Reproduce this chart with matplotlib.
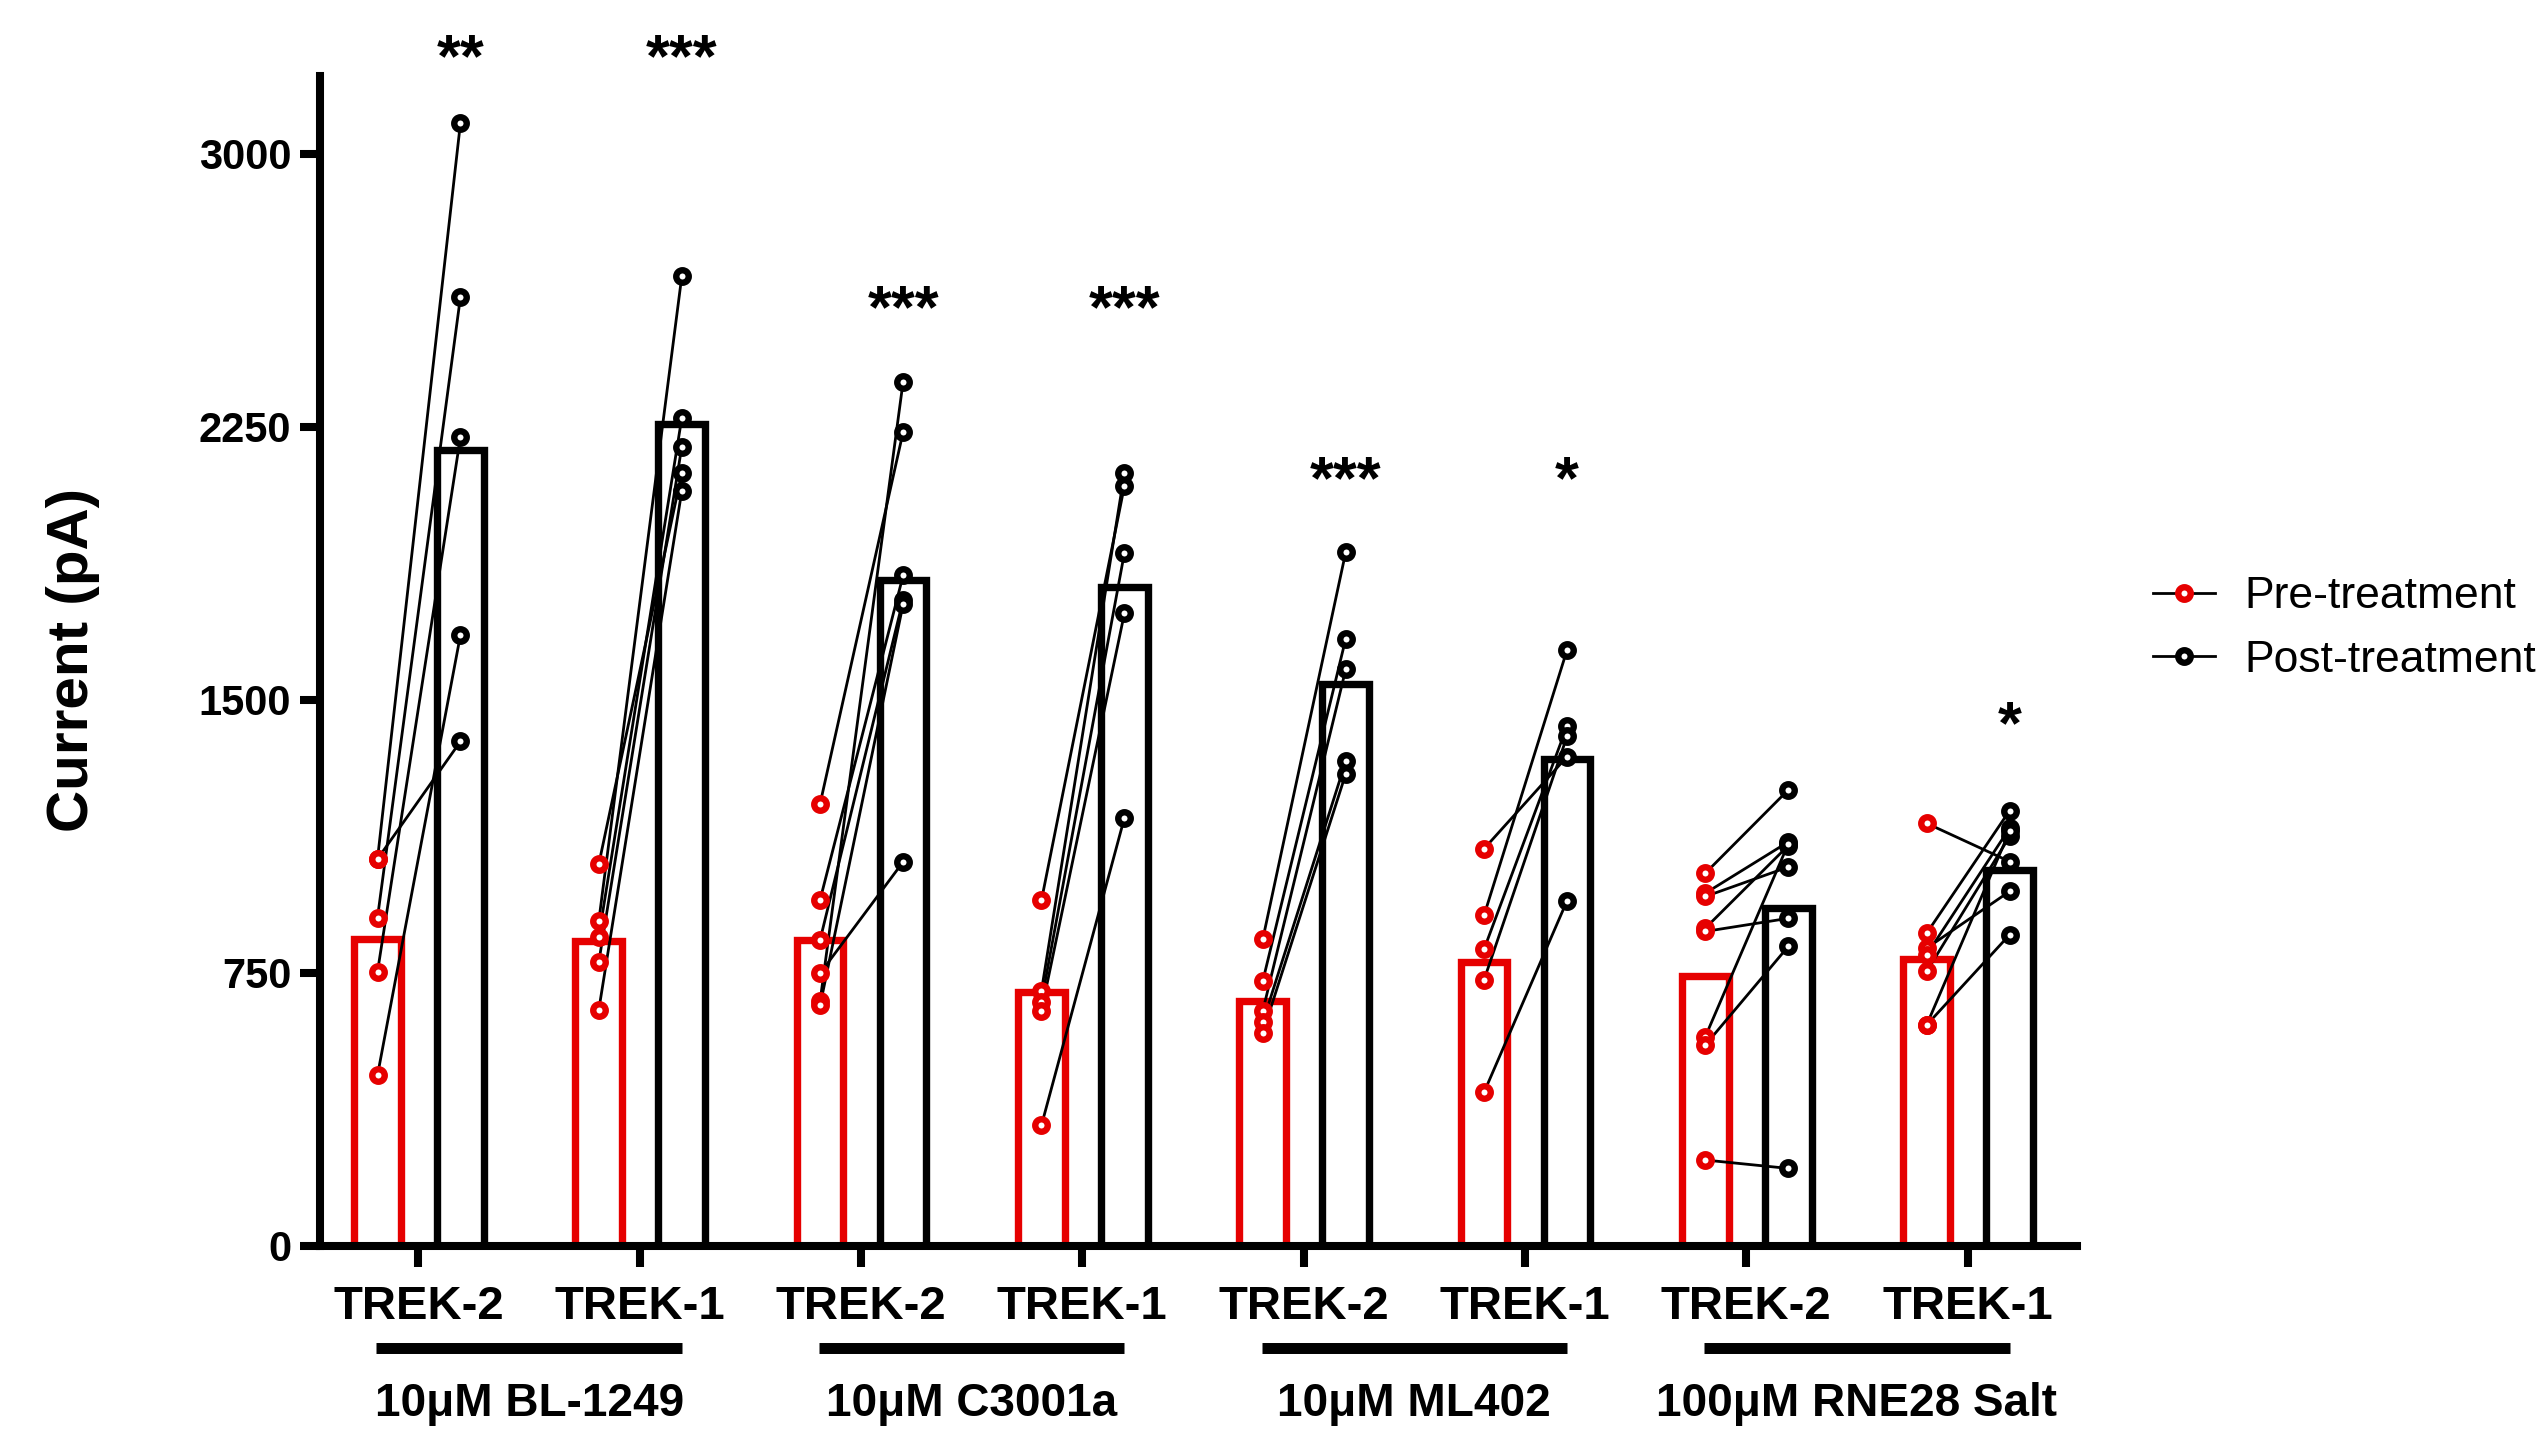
import matplotlib
matplotlib.use("Agg")
import matplotlib.pyplot as plt
import numpy as np
from matplotlib.lines import Line2D
from matplotlib.transforms import blended_transform_factory

plt.rcParams['font.family'] = ['Liberation Sans', 'DejaVu Sans']

# ---------------- data ----------------
groups = ["10\u03bcM BL-1249", "10\u03bcM C3001a", "10\u03bcM ML402", "100\u03bcM RNE28 Salt"]
channels = ["TREK-2", "TREK-1", "TREK-2", "TREK-1", "TREK-2", "TREK-1", "TREK-2", "TREK-1"]

pre_g1 = [1063, 1063, 902, 753, 469]
post_g1 = [3086, 1386, 2608, 2223, 1679]
pre_g2 = [1049, 893, 850, 780, 649]
post_g2 = [2124, 2664, 2275, 2196, 2074]
pre_g3 = [1215, 951, 841, 749, 673, 661]
post_g3 = [2236, 1842, 1775, 1055, 2374, 1763]
pre_g4 = [949, 700, 671, 646, 331]
post_g4 = [2088, 2123, 1904, 1738, 1176]
pre_g5 = [842, 727, 645, 614, 585]
post_g5 = [1906, 1668, 1584, 1331, 1297]
pre_g6 = [1091, 908, 815, 731, 422]
post_g6 = [1344, 1637, 1428, 1400, 948]
pre_g7 = [1024, 969, 960, 873, 864, 575, 552, 236]
post_g7 = [1253, 1110, 1041, 1100, 900, 1105, 823, 213]
pre_g8 = [1161, 859, 818, 800, 754, 607, 607]
post_g8 = [1056, 1196, 974, 1148, 1125, 1140, 855]

pre_all = [pre_g1, pre_g2, pre_g3, pre_g4, pre_g5, pre_g6, pre_g7, pre_g8]
post_all = [post_g1, post_g2, post_g3, post_g4, post_g5, post_g6, post_g7, post_g8]

pre_means = [842, 838, 840, 697, 673, 780, 742, 788]
post_means = [2187, 2258, 1830, 1811, 1544, 1338, 929, 1034]

stars = ["**", "***", "***", "***", "***", "*", "", "*"]
star_y = [3308, 3308, 2620, 2620, 2150, 2150, 0, 1475]

yticks = [0, 750, 1500, 2250, 3000]

RED = "#E60000"

# ---------------- figure ----------------
fig = plt.figure(figsize=(25.44, 14.3), dpi=100)
ax = fig.add_axes([0.1256, 0.1287, 0.8164 - 0.1256, 0.9469 - 0.1287])

x = np.arange(len(channels))
off_r, off_b = -0.185, 0.19
bw = 0.211

ax.bar(x + off_r, pre_means, width=bw, facecolor='none', edgecolor=RED, linewidth=5.3, zorder=1)
ax.bar(x + off_b, post_means, width=bw, facecolor='none', edgecolor='black', linewidth=5.3, zorder=1)

for i in range(len(channels)):
    pre = pre_all[i]
    post = post_all[i]
    for p, q in zip(pre, post):
        ax.plot([x[i] + off_r, x[i] + off_b], [p, q], color='black', lw=2, zorder=3)
    ax.plot(np.full(len(pre), x[i] + off_r), pre, 'o', ls='none', ms=9, mfc='white',
            mec=RED, mew=4.6, zorder=4)
    ax.plot(np.full(len(post), x[i] + off_b), post, 'o', ls='none', ms=9, mfc='white',
            mec='black', mew=4.6, zorder=4)
    if stars[i]:
        ax.text(x[i] + off_b, star_y[i] - 95, stars[i], ha='center', va='baseline',
                fontsize=44, fontweight='bold')

ax.set_xlim(-0.447, 7.494)
ax.set_ylim(0, 3214)

for s in ['top', 'right']:
    ax.spines[s].set_visible(False)
for s in ['left', 'bottom']:
    ax.spines[s].set_linewidth(5.8)

ax.set_yticks(yticks)
ax.set_yticklabels([str(v) for v in yticks], fontsize=30, fontweight='bold')
ax.tick_params(axis='y', length=14.4, width=5.8, pad=6)
ax.set_xticks(x)
ax.set_xticklabels([""] * len(x))
ax.tick_params(axis='x', length=15, width=5.8)

trans = blended_transform_factory(ax.transData, fig.transFigure)
for i, lab in enumerate(channels):
    ax.text(x[i], 0.0776, lab, transform=trans, ha='center', va='baseline',
            fontsize=34, fontweight='bold', clip_on=False)

for g, name in enumerate(groups):
    c = 2 * g + 0.5
    ax.plot([c - 0.69, c + 0.69], [0.0573, 0.0573], transform=trans, color='black',
            lw=7.9, solid_capstyle='butt', clip_on=False)
    ax.text(c, 0.0098, name, transform=trans, ha='center', va='baseline',
            fontsize=33, fontweight='bold', clip_on=False)

fig.text(73 / 2544, 1 - 660 / 1430, "Current (pA)", rotation=90, ha='center', va='center',
         fontsize=42, fontweight='bold')

handles = [
    Line2D([], [], color='black', lw=2, marker='o', ms=9, mfc='white', mec=RED, mew=4.6),
    Line2D([], [], color='black', lw=2, marker='o', ms=9, mfc='white', mec='black', mew=4.6),
]
fig.legend(handles, ["Pre-treatment", "Post-treatment"], loc='center left',
           bbox_to_anchor=(0.8463, 0.5605), frameon=False, fontsize=32,
           handlelength=1.4, handletextpad=0.65, labelspacing=0.5, borderpad=0,
           borderaxespad=0)

fig.savefig("out.png", dpi=100)
